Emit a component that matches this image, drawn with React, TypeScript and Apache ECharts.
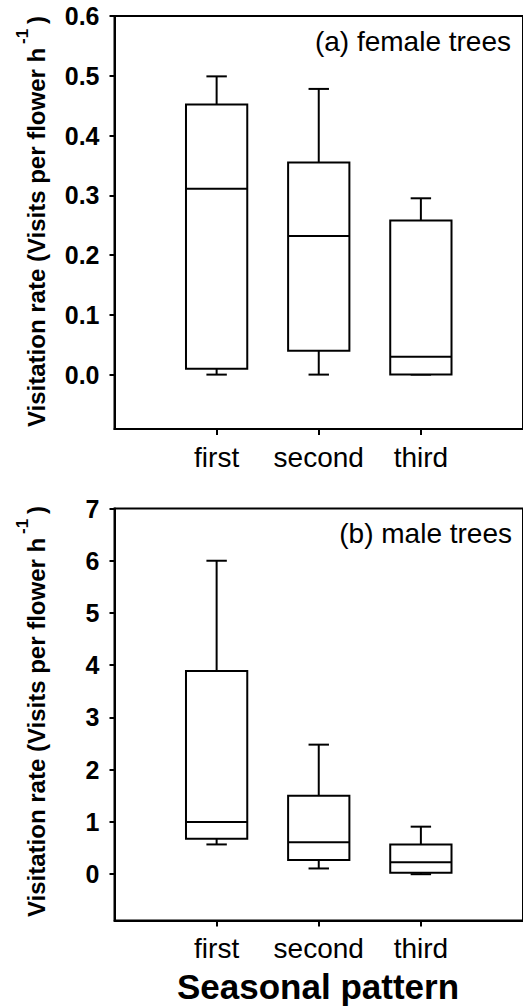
import React, { useEffect, useRef } from "react";
import * as echarts from "echarts";

// ---- data ----
const categories = ["first", "second", "third"];
const categoryPositions = [1, 2, 3];

const femaleMin = [0, 0, 0];
const femaleQ1 = [0.01, 0.04, 0.0];
const femaleMedian = [0.311, 0.232, 0.03];
const femaleQ3 = [0.452, 0.355, 0.258];
const femaleMax = [0.499, 0.478, 0.295];

const maleMin = [0.57, 0.11, 0.0];
const maleQ1 = [0.68, 0.27, 0.03];
const maleMedian = [1.0, 0.61, 0.23];
const maleQ3 = [3.89, 1.5, 0.57];
const maleMax = [6.0, 2.48, 0.91];

const femaleTicks = [0, 0.1, 0.2, 0.3, 0.4, 0.5, 0.6];
const maleTicks = [0, 1, 2, 3, 4, 5, 6, 7];

const panelTitles = ["(a) female trees", "(b) male trees"];
const yTitleMain = "Visitation rate (Visits per flower h";
const xTitle = "Seasonal pattern";

const FONT = "'Liberation Sans', Arial, Helvetica, sans-serif";

function buildData(mins: number[], q1s: number[], meds: number[], q3s: number[], maxs: number[]) {
  return categoryPositions.map((p, i) => [p, mins[i], q1s[i], meds[i], q3s[i], maxs[i]]);
}

const renderBox = (_params: any, api: any) => {
  const x = api.value(0);
  const lo = api.value(1);
  const q1 = api.value(2);
  const med = api.value(3);
  const q3 = api.value(4);
  const hi = api.value(5);
  const cx = api.coord([x, lo])[0];
  const yLo = api.coord([x, lo])[1];
  const yQ1 = api.coord([x, q1])[1];
  const yMed = api.coord([x, med])[1];
  const yQ3 = api.coord([x, q3])[1];
  const yHi = api.coord([x, hi])[1];
  const halfBox = api.size([0.3, 0])[0];
  const halfCap = api.size([0.1, 0])[0];
  const st = { stroke: "#000", lineWidth: 2, fill: "none" };
  return {
    type: "group",
    children: [
      { type: "line", shape: { x1: cx, y1: yQ3, x2: cx, y2: yHi }, style: st },
      { type: "line", shape: { x1: cx - halfCap, y1: yHi, x2: cx + halfCap, y2: yHi }, style: st },
      { type: "line", shape: { x1: cx, y1: yQ1, x2: cx, y2: yLo }, style: st },
      { type: "line", shape: { x1: cx - halfCap, y1: yLo, x2: cx + halfCap, y2: yLo }, style: st },
      {
        type: "rect",
        shape: { x: cx - halfBox, y: yQ3, width: 2 * halfBox, height: yQ1 - yQ3 },
        style: { stroke: "#000", lineWidth: 2, fill: "#fff" },
      },
      { type: "line", shape: { x1: cx - halfBox, y1: yMed, x2: cx + halfBox, y2: yMed }, style: st },
    ],
  };
};

function xAxisFor(gridIndex: number) {
  return {
    type: "value",
    gridIndex,
    min: 0,
    max: 4,
    splitLine: { show: false },
    axisLine: { show: true, onZero: false, lineStyle: { color: "#000", width: 2 } },
    axisTick: { show: true, customValues: categoryPositions, length: 6, lineStyle: { color: "#000", width: 2 } },
    axisLabel: {
      customValues: categoryPositions,
      formatter: (v: number) => categories[Math.round(v) - 1] ?? "",
      fontSize: 28,
      color: "#000",
      fontFamily: FONT,
      margin: 14,
    },
  };
}

function yAxisFor(gridIndex: number, min: number, max: number, ticks: number[], decimals: number) {
  return {
    type: "value",
    gridIndex,
    min,
    max,
    splitLine: { show: false },
    axisLine: { show: true, onZero: false, lineStyle: { color: "#000", width: 2 } },
    axisTick: { show: true, customValues: ticks, length: 5, lineStyle: { color: "#000", width: 2 } },
    axisLabel: {
      customValues: ticks,
      formatter: (v: number) => v.toFixed(decimals),
      fontSize: 25,
      fontWeight: "bold",
      color: "#000",
      fontFamily: FONT,
      margin: 15,
    },
  };
}

function yTitle(bottomY: number) {
  return [
    {
      type: "text",
      x: 36.5,
      y: bottomY,
      rotation: Math.PI / 2,
      style: {
        text: yTitleMain,
        fontSize: 24,
        fontWeight: "bold",
        fontFamily: FONT,
        fill: "#000",
        align: "left",
        verticalAlign: "middle",
      },
    },
    {
      type: "text",
      x: 22,
      y: bottomY - 383,
      rotation: Math.PI / 2,
      style: {
        text: "-1",
        fontSize: 17,
        fontWeight: "bold",
        fontFamily: FONT,
        fill: "#000",
        align: "left",
        verticalAlign: "middle",
      },
    },
    {
      type: "text",
      x: 36.5,
      y: bottomY - 403,
      rotation: Math.PI / 2,
      style: {
        text: ")",
        fontSize: 24,
        fontWeight: "bold",
        fontFamily: FONT,
        fill: "#000",
        align: "left",
        verticalAlign: "middle",
      },
    },
  ];
}

export default function App() {
  const ref = useRef<HTMLDivElement>(null);
  useEffect(() => {
    if (!ref.current) return;
    const chart = echarts.init(ref.current, null, { renderer: "svg" });
    const option: any = {
      animation: false,
      backgroundColor: "#fff",
      grid: [
        { left: 114.5, top: 16, width: 412, height: 413, show: true, borderColor: "#000", borderWidth: 2, backgroundColor: "transparent" },
        { left: 114.5, top: 508.5, width: 412, height: 412, show: true, borderColor: "#000", borderWidth: 2, backgroundColor: "transparent" },
      ],
      xAxis: [xAxisFor(0), xAxisFor(1)],
      yAxis: [
        yAxisFor(0, -0.091, 0.6, femaleTicks, 1),
        yAxisFor(1, -0.886, 7, maleTicks, 0),
      ],
      series: [
        {
          type: "custom",
          name: "female trees",
          xAxisIndex: 0,
          yAxisIndex: 0,
          renderItem: renderBox,
          encode: { x: 0, y: [1, 2, 3, 4, 5] },
          data: buildData(femaleMin, femaleQ1, femaleMedian, femaleQ3, femaleMax),
        },
        {
          type: "custom",
          name: "male trees",
          xAxisIndex: 1,
          yAxisIndex: 1,
          renderItem: renderBox,
          encode: { x: 0, y: [1, 2, 3, 4, 5] },
          data: buildData(maleMin, maleQ1, maleMedian, maleQ3, maleMax),
        },
      ],
      graphic: [
        {
          type: "text",
          x: 511,
          y: 41,
          style: { text: panelTitles[0], fontSize: 28, fontFamily: FONT, fill: "#000", align: "right", verticalAlign: "middle" },
        },
        {
          type: "text",
          x: 512,
          y: 533,
          style: { text: panelTitles[1], fontSize: 28, fontFamily: FONT, fill: "#000", align: "right", verticalAlign: "middle" },
        },
        {
          type: "text",
          x: 318,
          y: 986,
          style: { text: xTitle, fontSize: 35, fontWeight: "bold", fontFamily: FONT, fill: "#000", align: "center", verticalAlign: "middle" },
        },
        ...yTitle(427),
        ...yTitle(917),
      ],
    };
    chart.setOption(option);
    return () => chart.dispose();
  }, []);
  return (
    <div
      ref={ref}
      style={{ position: "absolute", left: 0, top: 0, width: 523, height: 1008, background: "#fff" }}
    />
  );
}
